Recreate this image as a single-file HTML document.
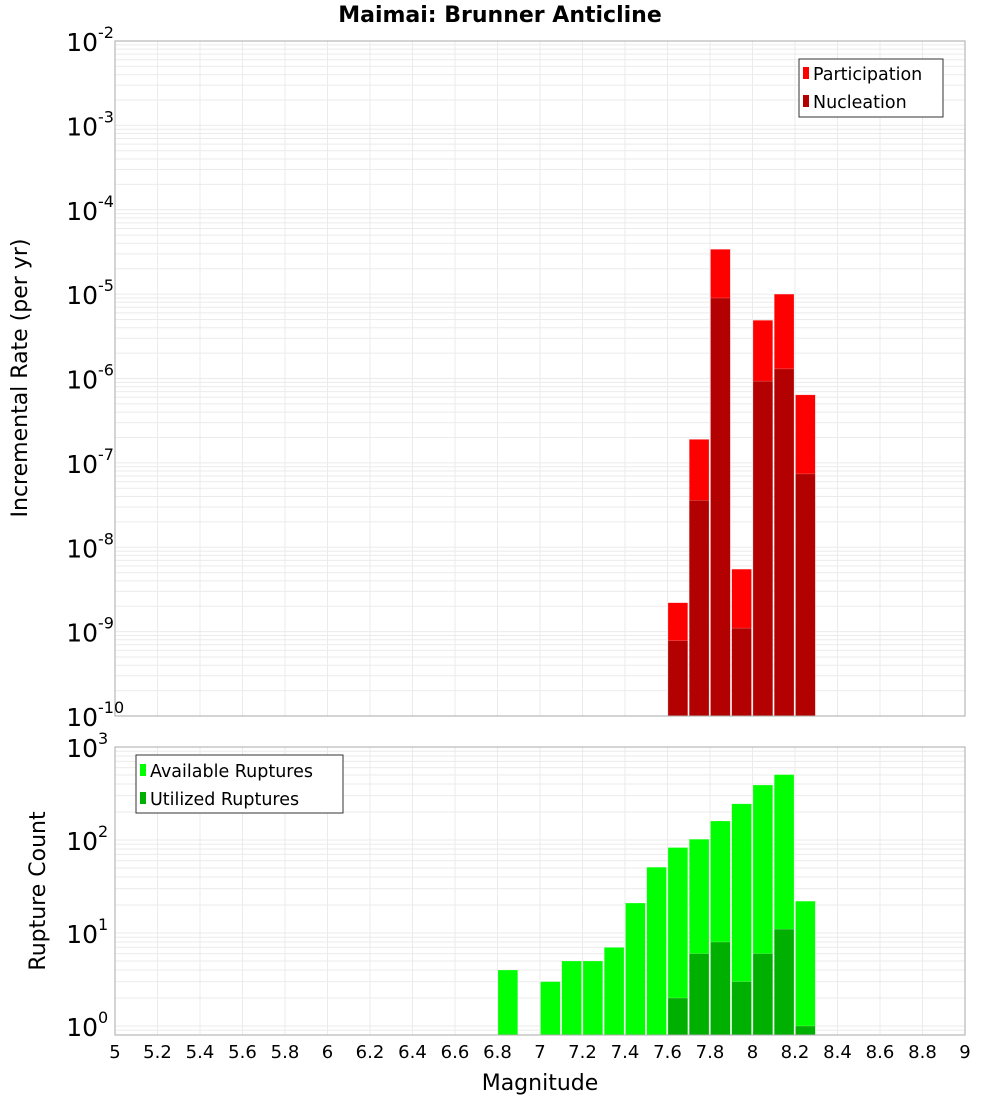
<!DOCTYPE html>
<html><head><meta charset="utf-8"><style>
body{margin:0;background:#fff;}
svg{display:block;font-family:"DejaVu Sans","Liberation Sans",sans-serif;}
</style></head><body>
<svg id="chart" width="1000" height="1100">
<text x="500" y="22" text-anchor="middle" font-size="22" font-weight="bold">Maimai: Brunner Anticline</text>
<g id="gtop"></g>
<g id="gbot"></g>
<text transform="translate(27,378) rotate(-90)" text-anchor="middle" font-size="22">Incremental Rate (per yr)</text>
<text transform="translate(45,891) rotate(-90)" text-anchor="middle" font-size="22">Rupture Count</text>
<text x="540" y="1090" text-anchor="middle" font-size="22">Magnitude</text>
<g>
<rect x="799" y="59" width="144" height="58" fill="#fff" stroke="#333"/>
<rect x="803" y="67" width="6" height="12" fill="#ff0000"/>
<text x="813" y="80" font-size="17.5">Participation</text>
<rect x="803" y="95" width="6" height="12" fill="#b30000"/>
<text x="813" y="108" font-size="17.5">Nucleation</text>
</g>
<g>
<rect x="136" y="755" width="207" height="58" fill="#fff" stroke="#333"/>
<rect x="140" y="764" width="6" height="12" fill="#00ff00"/>
<text x="150" y="777" font-size="17.5">Available Ruptures</text>
<rect x="140" y="792" width="6" height="12" fill="#00b000"/>
<text x="150" y="805" font-size="17.5">Utilized Ruptures</text>
</g>
</svg>
<script>
const binEdgesTop=[7.6,7.7,7.8,7.9,8.0,8.1,8.2];
const participation=[2.2e-9,1.9e-7,3.4e-5,5.5e-9,4.9e-6,1.0e-5,6.4e-7];
const nucleation=[7.8e-10,3.6e-8,9.0e-6,1.1e-9,9.3e-7,1.3e-6,7.4e-8];
const binEdgesBot=[6.8,7.0,7.1,7.2,7.3,7.4,7.5,7.6,7.7,7.8,7.9,8.0,8.1,8.2];
const available=[4,3,5,5,7,21,51,83,102,160,245,390,505,22];
const utilized=[0,0,0,0,0,0,0,2,6,8,3,6,11,1];
const xTicks=[5,5.2,5.4,5.6,5.8,6,6.2,6.4,6.6,6.8,7,7.2,7.4,7.6,7.8,8,8.2,8.4,8.6,8.8,9];
const topExps=[-2,-3,-4,-5,-6,-7,-8,-9,-10];
const botExps=[3,2,1,0];
const NS="http://www.w3.org/2000/svg";
const PL=115,PR=965;
function xs(m){return PL+(m-5)/4*(PR-PL);}
function yTop(v){return 41+(-2-Math.log10(v))*84.375;}
function yBot(v){return 1026-Math.log10(v)*93;}
function mk(p,t,a){const e=document.createElementNS(NS,t);for(const k in a)e.setAttribute(k,a[k]);p.appendChild(e);return e;}
function grid(g,y0,y1,yf,lo,hi){
  for(let d=lo;d<hi;d++)for(let k=1;k<10;k++){const v=k*Math.pow(10,d);const yy=yf(v);if(yy<y0-0.5||yy>y1+0.5)continue;
    const l=mk(g,'line',{x1:PL,x2:PR,y1:yy,y2:yy,stroke:'#ebebeb','stroke-width':1});
    
    }
  xTicks.forEach(t=>{const l=mk(g,'line',{x1:xs(t),x2:xs(t),y1:y0,y2:y1,stroke:'#ebebeb'});
    
    });
}
function yLabels(g,exps,yf){exps.forEach(e=>{const yy=yf(Math.pow(10,e));
  const t=mk(g,'text',{x:98,y:yy+10,'text-anchor':'end','font-size':25});t.textContent='10';
  
  
  const s=mk(g,'text',{x:98,y:yy-3,'font-size':16});s.textContent=String(e);
  
  });}
const gTop=document.getElementById('gtop'),gBot=document.getElementById('gbot');
grid(gTop,41,716,yTop,-10,-2);
grid(gBot,747,1035,yBot,-1,3);
function bars(g,edges,vals,yf,base,col,name){edges.forEach((m,i)=>{if(!(vals[i]>0))return;const y=yf(vals[i]);
  const r=mk(g,'rect',{x:xs(m)+0.5,y:y,width:xs(m+0.1)-xs(m)-1.5,height:base-y,fill:col,stroke:'#fff','stroke-opacity':0.4,'stroke-width':0.5});
  
  });}
bars(gTop,binEdgesTop,participation,yTop,716,'#ff0000','participation-bar');
bars(gTop,binEdgesTop,nucleation,yTop,716,'#b30000','nucleation-bar');
bars(gBot,binEdgesBot,available,yBot,1035,'#00ff00','available-bar');
bars(gBot,binEdgesBot,utilized,yBot,1035,'#00b000','utilized-bar');
const f1=mk(gTop,'rect',{x:PL,y:41,width:PR-PL,height:675,fill:'none',stroke:'#aaa'});


const f2=mk(gBot,'rect',{x:PL,y:747,width:PR-PL,height:288,fill:'none',stroke:'#aaa'});


yLabels(gTop,topExps,yTop);
yLabels(gBot,botExps,yBot);
xTicks.forEach(t=>{const tx=mk(gBot,'text',{x:xs(t),y:1058,'text-anchor':'middle','font-size':18});
  tx.textContent=String(t);
  
  });
</script>
</body></html>
